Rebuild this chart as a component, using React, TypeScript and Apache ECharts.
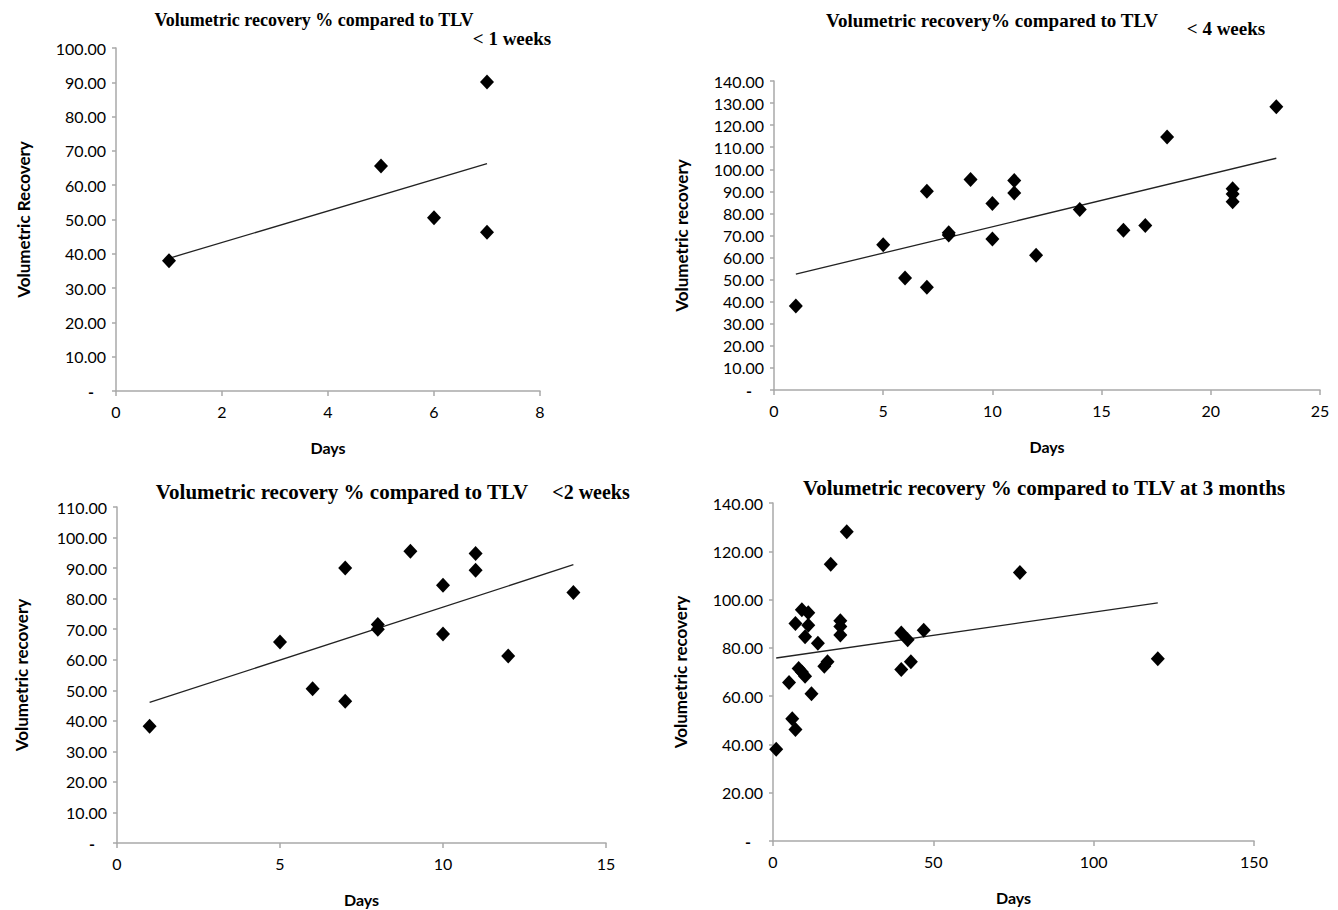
import React, { useEffect, useRef } from "react";
import * as echarts from "echarts";

// Panel 1: < 1 weeks
const days1 = [1, 5, 6, 7, 7];
const recovery1 = [38.0, 65.6, 50.5, 90.1, 46.3];
const trendDays1 = [1, 7];
const trendRec1 = [38.7, 66.3];

// Panel 2: < 4 weeks
const days2 = [1, 5, 6, 7, 7, 8, 8, 9, 10, 10, 11, 11, 12, 14, 16, 17, 18, 21, 21, 21, 23];
const recovery2 = [38.1, 65.8, 50.7, 90.1, 46.5, 71.2, 70.2, 95.4, 84.5, 68.4, 94.9, 89.3, 61.1, 81.8, 72.4, 74.5, 114.6, 91.2, 88.8, 85.3, 128.3];
const trendDays2 = [1, 23];
const trendRec2 = [52.5, 105.0];

// Panel 3: < 2 weeks
const days3 = [1, 5, 6, 7, 7, 8, 8, 9, 10, 10, 11, 11, 12, 14];
const recovery3 = [38.2, 65.8, 50.5, 90.0, 46.4, 71.5, 70.0, 95.5, 84.4, 68.4, 94.8, 89.3, 61.2, 82.0];
const trendDays3 = [1, 14];
const trendRec3 = [46.0, 91.1];

// Panel 4: at 3 months
const days4 = [1, 5, 6, 7, 7, 8, 9, 9, 10, 10, 11, 11, 12, 14, 16, 17, 18, 21, 21, 21, 23, 40, 40, 42, 43, 47, 77, 120];
const recovery4 = [38.0, 65.7, 50.6, 46.2, 90.1, 71.4, 70.0, 95.8, 84.6, 68.2, 94.5, 89.4, 61.0, 81.9, 72.4, 74.2, 114.6, 91.2, 88.8, 85.3, 128.1, 86.2, 71.0, 83.4, 74.2, 87.3, 111.2, 75.5];
const trendDays4 = [1, 120];
const trendRec4 = [75.8, 98.6];

const titles = [
  "Volumetric recovery % compared to TLV",
  "Volumetric recovery% compared to TLV",
  "Volumetric recovery % compared to TLV",
  "Volumetric recovery % compared to TLV at 3 months",
];
const subtitles = ["< 1 weeks", "< 4 weeks", "<2 weeks"];
const yNames = ["Volumetric Recovery", "Volumetric recovery", "Volumetric recovery", "Volumetric recovery"];
const xName = "Days";

const xMax = [8, 25, 15, 150];
const xStep = [2, 5, 5, 50];
const yMax = [100, 140, 110, 140];
const yStep = [10, 10, 10, 20];

const LABEL_FONT = "Lato, 'Open Sans', sans-serif";
const SERIF = "'Liberation Serif', 'DejaVu Serif', serif";

export default function App() {
  const ref = useRef<HTMLDivElement>(null);
  useEffect(() => {
    if (!ref.current) return;
    const chart = echarts.init(ref.current, null, { renderer: "svg" });

    const grids = [
      { left: 116, top: 48, width: 424, height: 343 },
      { left: 774, top: 81, width: 546, height: 309 },
      { left: 117, top: 507, width: 489, height: 336 },
      { left: 773, top: 503, width: 481, height: 338 },
    ];
    const yGaps = [84, 84, 87, 84];

    const pairs = (xs: number[], ys: number[]) => xs.map((x, i) => [x, ys[i]]);
    const scatterData = [
      pairs(days1, recovery1),
      pairs(days2, recovery2),
      pairs(days3, recovery3),
      pairs(days4, recovery4),
    ];
    const trendData = [
      pairs(trendDays1, trendRec1),
      pairs(trendDays2, trendRec2),
      pairs(trendDays3, trendRec3),
      pairs(trendDays4, trendRec4),
    ];

    const axisLineStyle = { color: "#a9a9a9", width: 1.5 };

    const xAxis = grids.map((_, i) => ({
      type: "value",
      gridIndex: i,
      min: 0,
      max: xMax[i],
      interval: xStep[i],
      splitLine: { show: false },
      axisLine: { show: true, onZero: false, lineStyle: axisLineStyle },
      axisTick: { show: true, length: 5, inside: false, lineStyle: axisLineStyle },
      axisLabel: { fontFamily: LABEL_FONT, fontSize: 16, color: "#000", margin: 12 },
      name: xName,
      nameLocation: "middle",
      nameGap: 48,
      nameTextStyle: { fontFamily: LABEL_FONT, fontSize: 16, fontWeight: "bold", color: "#000" },
    }));

    const yAxis = grids.map((_, i) => ({
      type: "value",
      gridIndex: i,
      min: 0,
      max: yMax[i],
      interval: yStep[i],
      splitLine: { show: false },
      axisLine: { show: true, onZero: false, lineStyle: axisLineStyle },
      axisTick: { show: true, length: 4, inside: false, lineStyle: axisLineStyle },
      axisLabel: {
        fontFamily: LABEL_FONT,
        fontSize: 16,
        color: "#000",
        margin: 10,
        formatter: (v: number) => (v === 0 ? "{d|-}" : v.toFixed(2)),
        rich: { d: { fontFamily: LABEL_FONT, fontSize: 16, color: "#000", fontWeight: "bold", padding: [0, 12, 0, 0] } },
      },
      name: yNames[i],
      nameLocation: "middle",
      nameRotate: 90,
      nameGap: yGaps[i],
      nameTextStyle: { fontFamily: LABEL_FONT, fontSize: 17, fontWeight: "bold", color: "#000" },
    }));

    const series: any[] = [];
    grids.forEach((_, i) => {
      series.push({
        type: "line",
        xAxisIndex: i,
        yAxisIndex: i,
        data: trendData[i],
        symbol: "none",
        lineStyle: { color: "#222", width: 1.3 },
        z: 2,
      });
      series.push({
        type: "scatter",
        xAxisIndex: i,
        yAxisIndex: i,
        data: scatterData[i],
        symbol: "diamond",
        symbolSize: [14, 15],
        itemStyle: { color: "#000", opacity: 1 },
        z: 3,
      });
    });

    const t = (x: number, y: number, text: string, font: string) => ({
      type: "text",
      x,
      y,
      style: { text, font, fill: "#000", textAlign: "center", textVerticalAlign: "middle" },
    });

    const graphic = [
      t(314, 20, titles[0], `bold 18px ${SERIF}`),
      t(512, 38, subtitles[0], `bold 19px ${SERIF}`),
      t(992, 20, titles[1], `bold 19px ${SERIF}`),
      t(1226, 28, subtitles[1], `bold 19px ${SERIF}`),
      t(342, 492, titles[2], `bold 21px ${SERIF}`),
      t(591, 492, subtitles[2], `bold 20px ${SERIF}`),
      t(1044, 488, titles[3], `bold 21px ${SERIF}`),
    ];

    chart.setOption({
      animation: false,
      backgroundColor: "#ffffff",
      grid: grids,
      xAxis,
      yAxis,
      series,
      graphic,
    });
    return () => chart.dispose();
  }, []);

  return <div ref={ref} style={{ position: "absolute", left: 0, top: 0, width: 1338, height: 910 }} />;
}
